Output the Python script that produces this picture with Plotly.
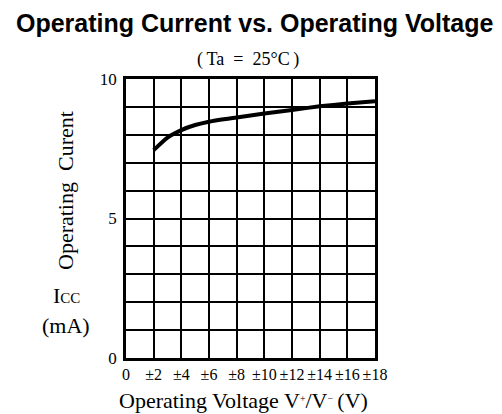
import plotly.graph_objects as go

# Data
voltage = [2, 3, 4, 5, 6, 8, 10, 12, 14, 16, 18]
current = [7.45, 7.9, 8.17, 8.35, 8.47, 8.62, 8.76, 8.89, 9.02, 9.12, 9.2]

x_tick_vals = [0, 2, 4, 6, 8, 10, 12, 14, 16, 18]
x_tick_text = ["0", "±2", "±4", "±6", "±8", "±10", "±12", "±14", "±16", "±18"]
y_tick_vals = [0, 1, 2, 3, 4, 5, 6, 7, 8, 9, 10]
y_tick_text = ["0", "", "", "", "", "5", "", "", "", "", "10"]

title_text = "Operating Current vs. Operating Voltage"
subtitle_text = "(\u2009Ta\u2002=\u200225°C\u2009)"
y_title = "Operating\u2002Curent"
x_title = ("Operating Voltage V<span style='font-size:14px'><sup>+</sup></span>/"
           "V<span style='font-size:14px'><sup>−</sup></span>\u2009(V)")

SERIF = "Liberation Serif, Times New Roman, serif"
SANS = "Liberation Sans, Arial, sans-serif"

# page body has an 8px margin; lay out in window pixels then shift
OFF = 8
W, H = 502 - OFF, 414 - OFF
PL, PR, PT, PB = 126, 375, 79, 358          # plot box in window pixels
l, t = PL - OFF, PT - OFF
r, b = W - (PR - OFF), H - (PB - OFF)
pw, ph = W - l - r, H - t - b

fig = go.Figure()
fig.add_trace(go.Scatter(
    x=voltage, y=current, mode="lines",
    line=dict(color="black", width=4, shape="spline", smoothing=0.6),
    hoverinfo="skip", showlegend=False,
))

fig.update_layout(
    width=W, height=H,
    margin=dict(l=l, r=r, t=t, b=b, autoexpand=False),
    paper_bgcolor="white", plot_bgcolor="white",
    showlegend=False,
    font=dict(family=SERIF, color="black", size=15),
)

fig.update_xaxes(
    range=[0, 18], tickvals=x_tick_vals, ticktext=x_tick_text,
    showgrid=True, gridcolor="black", gridwidth=1.5,
    showline=True, linecolor="black", linewidth=2.5, mirror=True,
    ticks="", ticklen=0, zeroline=False, ticklabelstandoff=0,
    tickfont=dict(family=SERIF, size=16, color="black"),
)
fig.update_yaxes(
    range=[0, 10], tickvals=y_tick_vals, ticktext=y_tick_text,
    showgrid=True, gridcolor="black", gridwidth=1.5,
    showline=True, linecolor="black", linewidth=2.5, mirror=True,
    ticks="", ticklen=0, zeroline=False, ticklabelstandoff=3,
    tickfont=dict(family=SERIF, size=17, color="black"),
)

annotations = [
    dict(text="<b>" + title_text + "</b>", x=254, y=23,
         font=dict(family=SANS, size=25, color="black")),
    dict(text=subtitle_text, x=248, y=60, font=dict(family=SERIF, size=18, color="black")),
    dict(text=y_title, x=65, y=191, textangle=-90,
         font=dict(family=SERIF, size=22, color="black")),
    dict(text="I<span style='font-size:15px'>CC</span>", x=66, y=295,
         font=dict(family=SERIF, size=22, color="black")),
    dict(text="(mA)", x=66, y=325, font=dict(family=SERIF, size=22, color="black")),
    dict(text=x_title, x=243, y=400, font=dict(family=SERIF, size=22, color="black")),
]

for a in annotations:
    a["x"] = (a["x"] - PL) / pw
    a["y"] = 1 - (a["y"] - PT) / ph
    a["xref"] = "paper"
    a["yref"] = "paper"
    a["showarrow"] = False
    a["xanchor"] = "center"
    a["yanchor"] = "middle"
fig.update_layout(annotations=annotations)

fig.write_html("out.html")
